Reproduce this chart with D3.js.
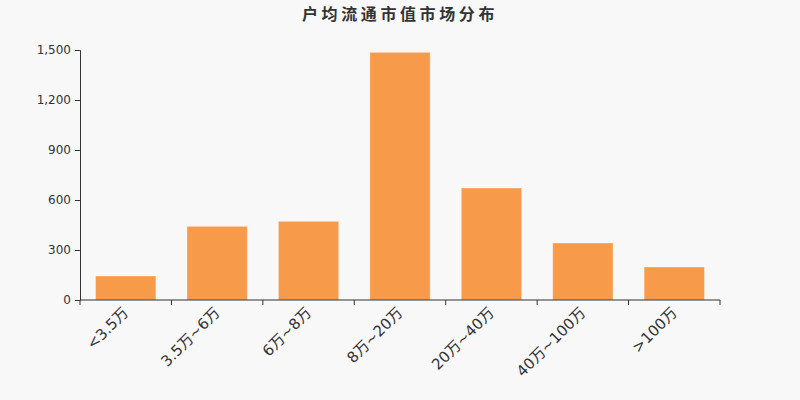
<!DOCTYPE html>
<html lang="zh">
<head>
	<meta charset="utf-8">
	<title>户均流通市值市场分布</title>
	<script src="https://d3js.org/d3.v7.min.js"></script>
	<style>
	body { margin: 0; background: #f8f8f8; }
	svg text { font-family: "DejaVu Sans", "Noto Sans CJK SC", sans-serif; }
	</style>
</head>
<body>
<div id="chart"></div>
<script>
// categories and values
var categories = ["<3.5万", "3.5万~6万", "6万~8万", "8万~20万", "20万~40万", "40万~100万", ">100万"];
var values = [144, 442, 472, 1486, 672, 342, 198];
var yTicks = [0, 300, 600, 900, 1200, 1500];

var width = 800, height = 400;
var margin = {top: 50, right: 80, bottom: 100, left: 80};

var svg = d3.select("#chart").append("svg")
	.attr("width", width)
	.attr("height", height);

svg.append("rect")
	.attr("width", width)
	.attr("height", height)
	.attr("fill", "#f8f8f8");

// title
svg.append("text")
	.attr("x", width / 2)
	.attr("y", 20)
	.attr("text-anchor", "middle")
	.style("font-family", "'Noto Sans CJK SC', sans-serif")
	.style("font-size", "16px")
	.style("font-weight", "bold")
	.style("letter-spacing", "3.6px")
	.attr("fill", "#333")
	.text("户均流通市值市场分布");

var xScale = d3.scaleBand()
	.domain(categories)
	.range([margin.left, width - margin.right])
	.paddingInner(0.34)
	.paddingOuter(0.17);

var yScale = d3.scaleLinear()
	.domain([0, 1500])
	.range([height - margin.bottom, margin.top]);

// bars
svg.selectAll("rect.bar")
	.data(values)
	.enter()
	.append("rect")
	.attr("class", "bar")
	.attr("x", function(d, i){ return xScale(categories[i]); })
	.attr("y", function(d){ return yScale(d); })
	.attr("width", xScale.bandwidth())
	.attr("height", function(d){ return yScale(0) - yScale(d); })
	.attr("fill", "#f79a4a")
	.attr("stroke", "rgba(255,255,255,0.35)")
	.attr("stroke-width", 1);

// y axis
var yAxis = d3.axisLeft(yScale)
	.tickValues(yTicks)
	.tickSize(5)
	.tickPadding(4)
	.tickFormat(d3.format(","));

var gy = svg.append("g")
	.attr("transform", "translate(" + margin.left + ",0)")
	.call(yAxis)
	.attr("font-family", null)
	.attr("font-size", null);
gy.select(".domain").attr("stroke", "#333");
gy.selectAll("line").attr("stroke", "#333");
gy.selectAll("text")
	.attr("fill", "#333")
	.style("font-size", "12px");

// x axis: ticks on band boundaries
var boundaries = categories.map(function(c){ return xScale(c) - xScale.step() * xScale.paddingInner() / 2; });
boundaries.push(width - margin.right);

var gx = svg.append("g")
	.attr("transform", "translate(0," + yScale(0) + ")");

gx.append("line")
	.attr("x1", margin.left)
	.attr("x2", width - margin.right)
	.attr("stroke", "#333");

gx.selectAll("line.tick")
	.data(boundaries)
	.enter()
	.append("line")
	.attr("class", "tick")
	.attr("x1", function(d){ return d; })
	.attr("x2", function(d){ return d; })
	.attr("y2", 5)
	.attr("stroke", "#333");

gx.selectAll("text")
	.data(categories)
	.enter()
	.append("text")
	.attr("transform", function(d){
		return "translate(" + (xScale(d) + xScale.bandwidth() / 2) + ",10) rotate(-45)";
	})
	.attr("text-anchor", "end")
	.attr("dy", "0.35em")
	.attr("fill", "#333")
	.style("font-size", "15px")
	.text(function(d){ return d; });
</script>
</body>
</html>
